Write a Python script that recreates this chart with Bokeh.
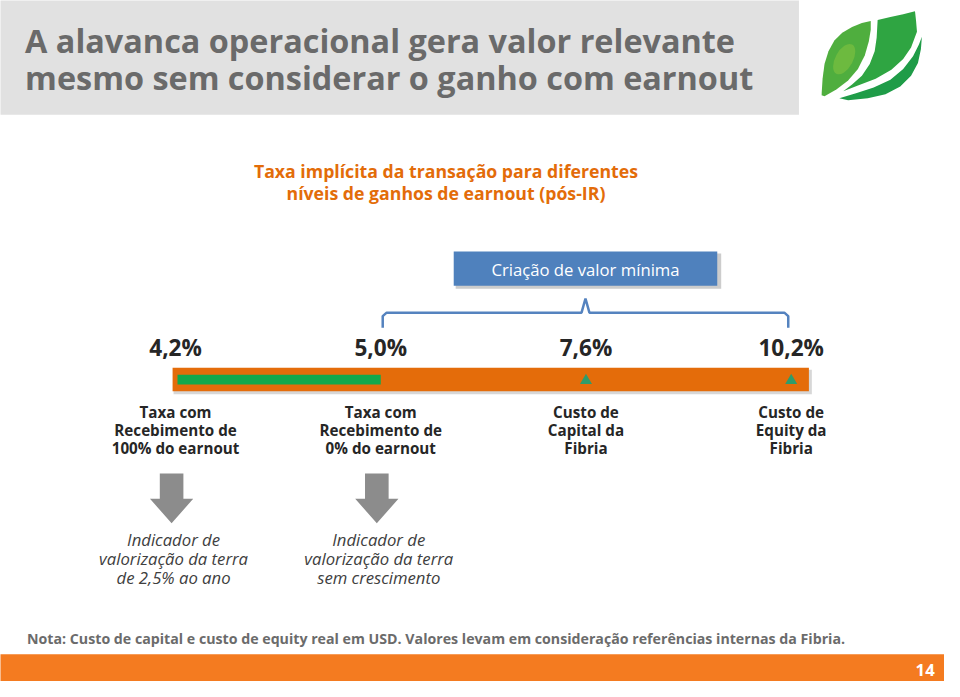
from bokeh.plotting import figure
from bokeh.models import Range1d
from bokeh.core.properties import value
from bokeh.embed import file_html
from bokeh.resources import INLINE

# ---------------- data ----------------
title_lines = ["A alavanca operacional gera valor relevante",
               "mesmo sem considerar o ganho com earnout"]
subtitle_lines = ["Taxa implícita da transação para diferentes",
                  "níveis de ganhos de earnout (pós-IR)"]
rate_values = [4.2, 5.0, 7.6, 10.2]
rate_labels = ["4,2%", "5,0%", "7,6%", "10,2%"]
categories = ["Taxa com\nRecebimento de\n100% do earnout",
              "Taxa com\nRecebimento de\n0% do earnout",
              "Custo de\nCapital da\nFibria",
              "Custo de\nEquity da\nFibria"]
green_range = [0, 1]          # earnout band: from 4,2% to 5,0%
triangle_idx = [2, 3]         # reference costs
bracket_range = [1, 3]        # "Criação de valor mínima" spans 5,0% .. 10,2%
bracket_label = "Criação de valor mínima"
indicators = ["Indicador de\nvalorização da terra\nde 2,5% ao ano",
              "Indicador de\nvalorização da terra\nsem crescimento"]
note = ("Nota: Custo de capital e custo de equity real em USD. "
        "Valores levam em consideração referências internas da Fibria.")
page_number = "14"

# ---------------- layout ----------------
W, H = 944, 681
REF_W, REF_H = 960, 697
K = W / REF_W


def fs(px):
    return f"{px * K:.1f}px"


p = figure(width=W, height=H, output_backend="svg", toolbar_location=None,
           x_range=Range1d(0, REF_W), y_range=Range1d(REF_H, 0),
           min_border=0)
p.axis.visible = False
p.grid.visible = False
p.outline_line_color = None
p.background_fill_color = "white"
p.border_fill_color = "white"

FONT = value("Open Sans")
LH = 1.362  # natural line height of Open Sans in em
x0, step = 178.0, 208.7
sx = [x0 + i * step for i in range(len(rate_values))]

# title band
p.quad(left=[-10], right=[812], top=[-10], bottom=[117], fill_color="#e1e1e1", line_color=None)
p.text(x=[25, 25], y=[40, 78], text=title_lines, text_font=FONT, text_font_size=fs(33),
       text_font_style="bold", text_color="#6a6a6a", text_baseline="middle", text_align="left")

# logo: three leaf bands
lobe_x = [835, 836, 838, 842, 848, 856, 866, 876, 885, 885, 883, 879, 872, 862, 850, 838]
lobe_y = [97, 80, 65, 52, 41, 33, 27, 23, 21, 30, 42, 56, 70, 82, 91, 98]
mid_x = [892, 905, 918, 930, 931, 932, 926, 918, 906, 890, 872, 857, 866, 876, 884, 889, 891]
mid_y = [20, 17, 14, 11, 20, 32, 48, 60, 71, 80, 87, 93, 86, 77, 65, 52, 38]
bot_x = [937, 936, 933, 926, 915, 900, 882, 862, 853, 870, 888, 905, 918, 928, 934]
bot_y = [37, 50, 64, 77, 88, 96, 100, 102, 100, 95, 89, 81, 70, 57, 45]
p.patch(lobe_x, lobe_y, fill_color="#4fae3e", line_color=None)
p.ellipse(x=[858], y=[60], width=18, height=34, angle=-0.5, fill_color="#8cc63f",
          fill_alpha=0.5, line_color=None)
p.patch(mid_x, mid_y, fill_color="#2fa542", line_color=None)
p.patch(bot_x, bot_y, fill_color="#1f9c48", line_color=None)

# subtitle
p.text(x=[453, 453], y=[175, 197], text=subtitle_lines, text_font=FONT, text_font_size=fs(18),
       text_font_style="bold", text_color="#e36c09", text_baseline="middle", text_align="center")

# blue box + bracket
bx_l, bx_r = sx[bracket_range[0]] + 2, sx[bracket_range[1]] - 3
bmid = (bx_l + bx_r) / 2
p.quad(left=[bmid - 132], right=[bmid + 138], top=[259], bottom=[295],
       fill_color="#9a9a9a", fill_alpha=0.5, line_color=None)
p.quad(left=[bmid - 134], right=[bmid + 134], top=[257], bottom=[292],
       fill_color="#4f81bd", line_color=None)
p.text(x=[bmid], y=[275], text=[bracket_label], text_font=FONT, text_font_size=fs(17),
       text_color="white", text_baseline="middle", text_align="center")
br_x = [bx_l, bx_l, bx_l + 4, bmid - 4, bmid, bmid + 4, bx_r - 4, bx_r, bx_r]
br_y = [335, 323, 319.5, 319.5, 305, 319.5, 319.5, 323, 335]
p.line(br_x, br_y, line_color="#5583bf", line_width=2.5)

# rate labels
p.text(x=sx, y=[355] * 4, text=rate_labels, text_font=FONT, text_font_size=fs(23),
       text_font_style="bold", text_color="#262626", text_baseline="middle", text_align="center")

# orange scale bar with shadow
p.quad(left=[sx[0] - 2], right=[sx[-1] + 21], top=[378], bottom=[403],
       fill_color="#b0b0b0", fill_alpha=0.5, line_color=None)
p.quad(left=[sx[0] - 3], right=[sx[-1] + 18], top=[376], bottom=[400],
       fill_color="#e46c0a", line_color=None)
# green earnout band
p.quad(left=[sx[green_range[0]] + 2], right=[sx[green_range[1]]], top=[383], bottom=[393],
       fill_color="#13a84c", line_color=None)
# triangles
p.scatter(x=[sx[i] for i in triangle_idx], y=[389, 389], marker="triangle", size=12,
          fill_color="#2f9c6b", line_color=None)

# category labels (3 lines, centre line at y=440, 19px spacing)
cat_px = 15.5
p.text(x=sx, y=[440] * 4, text=categories, text_font=FONT, text_font_size=fs(cat_px),
       text_font_style="bold", text_color="#262626", text_baseline="middle",
       text_align="center", text_line_height=19 / (cat_px * LH))

# gray arrows
for i in range(len(indicators)):
    c = sx[i] - 4
    ax = [c - 12, c + 12, c + 12, c + 22, c, c - 22, c - 12]
    ay = [484, 484, 510, 510, 535, 510, 510]
    p.patch(ax, ay, fill_color="#8c8c8c", line_color=None)

# indicator texts (centre line at y=571)
ind_px = 17
p.text(x=[sx[i] - 2 for i in range(len(indicators))], y=[571] * len(indicators), text=indicators,
       text_font=FONT, text_font_size=fs(ind_px), text_font_style="italic", text_color="#404040",
       text_baseline="middle", text_align="center", text_line_height=19 / (ind_px * LH))

# note
p.text(x=[27], y=[653], text=[note], text_font=FONT, text_font_size=fs(14.4),
       text_font_style="bold", text_color="#6b6b6b", text_baseline="middle", text_align="left")

# footer
p.quad(left=[-10], right=[970], top=[669], bottom=[710], fill_color="#f47b20", line_color=None)
p.text(x=[950], y=[685], text=[page_number], text_font=FONT, text_font_size=fs(17),
       text_font_style="bold", text_color="white", text_baseline="middle", text_align="right")

open("out.html", "w").write(file_html(p, INLINE))
